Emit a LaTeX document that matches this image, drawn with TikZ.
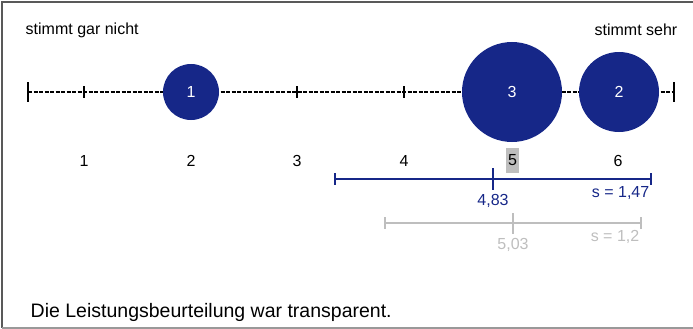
\documentclass[tikz,border=0pt]{standalone}
\usepackage{fontspec}
\setmainfont{Liberation Sans}
\usepackage{tikz}
\definecolor{bleu}{RGB}{22,39,136}
\definecolor{gris}{RGB}{190,190,190}

\begin{document}
\begin{tikzpicture}[x=1pt,y=-1pt,thick,
  every node/.style={font=\fontsize{16}{19}\selectfont},
  bulle/.style={circle, fill=bleu, text=white, inner sep=0pt},
  axe/.style={line width=2.4pt, dash pattern=on 4pt off 1.5pt},
  trait/.style={line width=2.5pt}]
  \useasboundingbox (0,0) rectangle (693,329);
     % Cadre
  \draw[line width=2pt, black!65] (693,2) -- (2,2) -- (2,327.5);
  \draw[line width=2pt, black!40] (2,327.5) -- (693,327.5);

     % Echelle
  \node[anchor=west] (G) at (22,30) {stimmt gar nicht};
  \node[anchor=east] (D) at (681,30) {stimmt sehr};
  \coordinate (aL) at (28,92);
  \coordinate (aR) at (674,92);
  \draw[axe] (aL) -- (aR);
  \draw[trait] (28,82) -- (28,102);
  \draw[trait] (674,82) -- (674,102);
  \foreach \x in {84,191,297,404,511,618}
    \draw[trait] (\x,86) -- (\x,98);

     % Bulles
  \node[bulle, minimum size=56] (b1) at (191,92) {1};
  \node[bulle, minimum size=100] (b3) at (512,92) {3};
  \node[bulle, minimum size=80] (b2) at (619,92) {2};

     % Valeurs
  \node (1) at (84,161) {1};
  \node (2) at (191,161) {2};
  \node (3) at (297,161) {3};
  \node (4) at (404,161) {4};
  \node[fill=gris, minimum width=13, minimum height=25, inner sep=0pt] (5) at (512.5,160.5) {5};
  \node (6) at (618,161) {6};

     % Moyenne et ecart type
  \coordinate (mL) at (335,179);
  \coordinate (mR) at (651,179);
  \draw[trait, bleu] (mL) -- (mR);
  \draw[trait, bleu] (335,173) -- (335,185);
  \draw[trait, bleu] (651,173) -- (651,185);
  \draw[trait, bleu] (493,168) -- (493,190);
  \node[text=bleu] (m) at (493,201) {4,83};
  \node[text=bleu, anchor=east] (s) at (653,193) {s = 1,47};

  \coordinate (nL) at (385,223);
  \coordinate (nR) at (641,223);
  \draw[trait, gris] (nL) -- (nR);
  \draw[trait, gris] (385,217) -- (385,229);
  \draw[trait, gris] (641,217) -- (641,229);
  \draw[trait, gris] (513,213) -- (513,234);
  \node[text=gris] (n) at (513,245) {5,03};
  \node[text=gris, anchor=east] (t) at (643,237) {s = 1,2};

     % Enonce
  \node[anchor=west, font=\fontsize{19.5}{23}\selectfont] (E) at (27,312) {Die Leistungsbeurteilung war transparent.};

\end{tikzpicture}
\end{document}
